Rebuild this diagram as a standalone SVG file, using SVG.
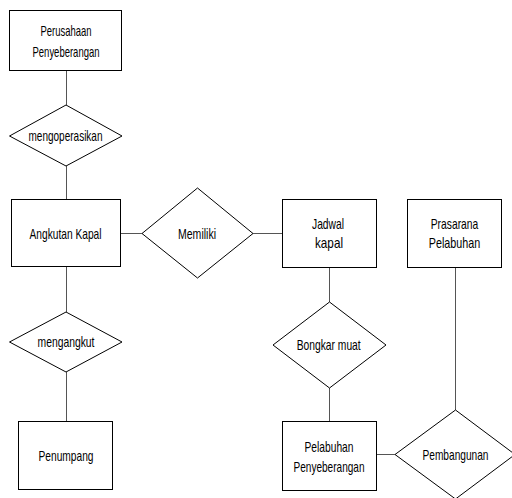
<svg xmlns="http://www.w3.org/2000/svg" width="512" height="498" viewBox="0 0 512 498">
  <style>
    .entity { fill: #ffffff; stroke: #000000; stroke-width: 1; }
    .relation { fill: #ffffff; stroke: #000000; stroke-width: 1; }
    .link { stroke: #555555; stroke-width: 1; fill: none; }
    text { font-family: "Liberation Sans", Arial, sans-serif; font-size: 15px; fill: #000000; text-anchor: middle; }
  </style>
  <rect width="512" height="498" fill="#ffffff"/>

  <!-- connectors -->
  <g id="connectors">
    <line class="link" x1="66.5" y1="71" x2="66.5" y2="105"/>
    <line class="link" x1="66.5" y1="166" x2="66.5" y2="199"/>
    <line class="link" x1="121" y1="233.5" x2="142" y2="233.5"/>
    <line class="link" x1="253" y1="233.5" x2="282" y2="233.5"/>
    <line class="link" x1="66.5" y1="267" x2="66.5" y2="312"/>
    <line class="link" x1="66.5" y1="372" x2="66.5" y2="421"/>
    <line class="link" x1="329.5" y1="268" x2="329.5" y2="302"/>
    <line class="link" x1="329.5" y1="388" x2="329.5" y2="421"/>
    <line class="link" x1="377" y1="454.5" x2="395" y2="454.5"/>
    <line class="link" x1="455.5" y1="268" x2="455.5" y2="410"/>
  </g>

  <!-- entities -->
  <g id="perusahaan-penyeberangan">
    <rect class="entity" x="9.5" y="10.5" width="112" height="60"/>
    <text x="66" y="35.5" textLength="51" lengthAdjust="spacingAndGlyphs">Perusahaan</text>
    <text x="66" y="56.5" textLength="67" lengthAdjust="spacingAndGlyphs">Penyeberangan</text>
  </g>
  <g id="angkutan-kapal">
    <rect class="entity" x="11.5" y="199.5" width="109" height="67"/>
    <text x="65.5" y="238.5" textLength="72" lengthAdjust="spacingAndGlyphs">Angkutan Kapal</text>
  </g>
  <g id="jadwal-kapal">
    <rect class="entity" x="282.5" y="199.5" width="94" height="68"/>
    <text x="328" y="229" textLength="32" lengthAdjust="spacingAndGlyphs">Jadwal</text>
    <text x="329" y="248" textLength="28" lengthAdjust="spacingAndGlyphs">kapal</text>
  </g>
  <g id="prasarana-pelabuhan">
    <rect class="entity" x="407.5" y="199.5" width="94" height="68"/>
    <text x="454.5" y="229" textLength="47.5" lengthAdjust="spacingAndGlyphs">Prasarana</text>
    <text x="454.5" y="248" textLength="51.5" lengthAdjust="spacingAndGlyphs">Pelabuhan</text>
  </g>
  <g id="penumpang">
    <rect class="entity" x="18.5" y="421.5" width="94" height="68"/>
    <text x="66" y="461" textLength="55" lengthAdjust="spacingAndGlyphs">Penumpang</text>
  </g>
  <g id="pelabuhan-penyeberangan">
    <rect class="entity" x="282.5" y="421.5" width="94" height="69"/>
    <text x="329" y="452" textLength="49" lengthAdjust="spacingAndGlyphs">Pelabuhan</text>
    <text x="329" y="472" textLength="71" lengthAdjust="spacingAndGlyphs">Penyeberangan</text>
  </g>

  <!-- relationships -->
  <g id="mengoperasikan">
    <polygon class="relation" points="66,105 122,136 66,166 9.5,136"/>
    <text x="65.5" y="141" textLength="74" lengthAdjust="spacingAndGlyphs">mengoperasikan</text>
  </g>
  <g id="memiliki">
    <polygon class="relation" points="197.5,188 253,233.5 197.5,278 142,233.5"/>
    <text x="197" y="239" textLength="38" lengthAdjust="spacingAndGlyphs">Memiliki</text>
  </g>
  <g id="mengangkut">
    <polygon class="relation" points="66,312 122,342 66,372 9.5,342"/>
    <text x="66" y="347" textLength="57" lengthAdjust="spacingAndGlyphs">mengangkut</text>
  </g>
  <g id="bongkar-muat">
    <polygon class="relation" points="329.5,302 386,345 329.5,388 273,345"/>
    <text x="328.7" y="350" textLength="64" lengthAdjust="spacingAndGlyphs">Bongkar muat</text>
  </g>
  <g id="pembangunan">
    <polygon class="relation" points="455.5,410 515,454.5 455.5,499 395,454.5"/>
    <text x="455.5" y="460" textLength="66" lengthAdjust="spacingAndGlyphs">Pembangunan</text>
  </g>
</svg>
